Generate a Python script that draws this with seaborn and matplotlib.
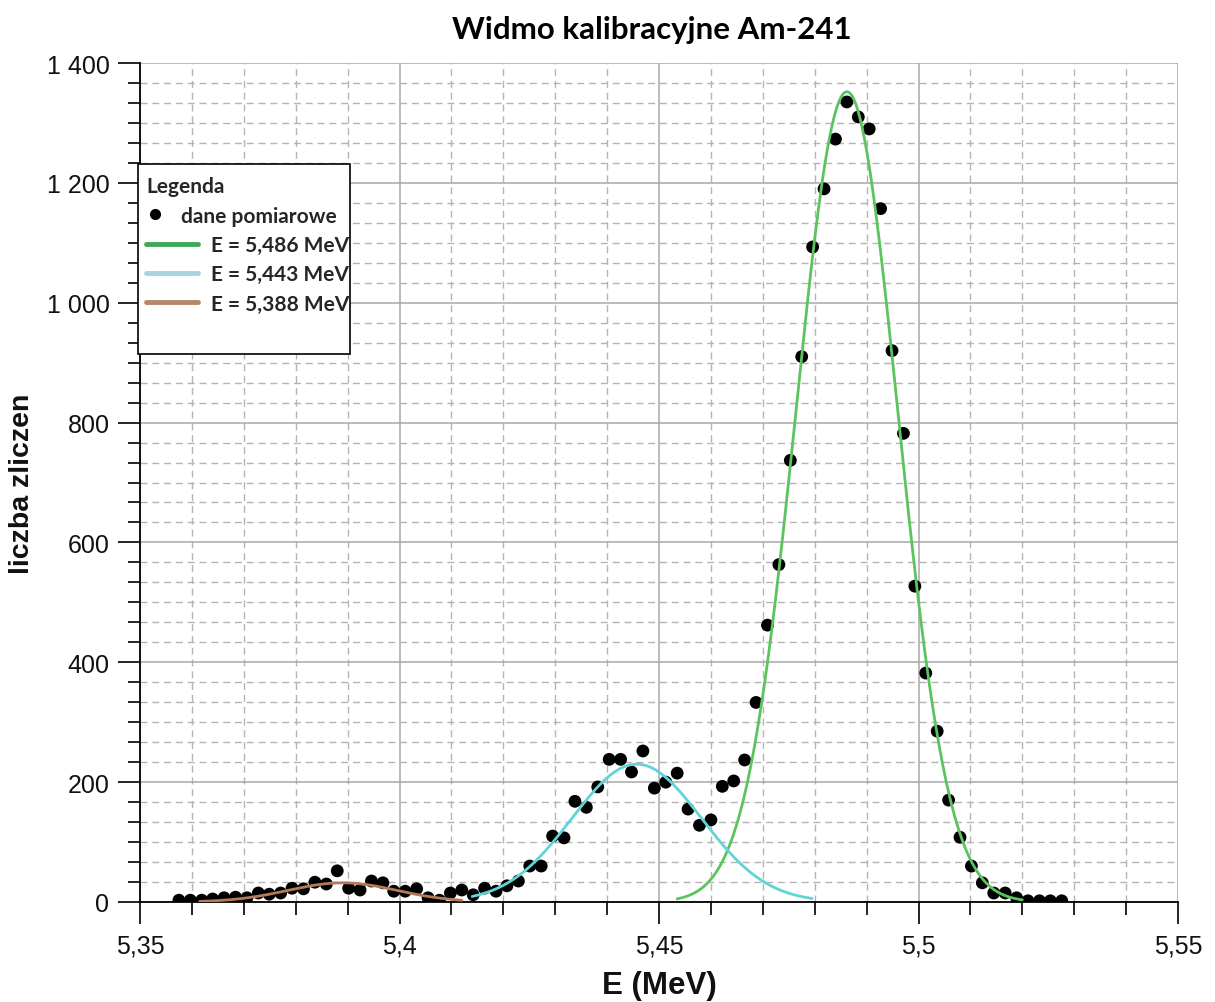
import numpy as np
import pandas as pd
import matplotlib
matplotlib.use("Agg")
import matplotlib.pyplot as plt
import matplotlib.transforms as mtransforms
from matplotlib.ticker import MultipleLocator, FuncFormatter, FixedLocator
from matplotlib.patches import Rectangle
from matplotlib.lines import Line2D
import seaborn as sns

# ---------------- data ----------------
energy = [5.3575, 5.3597, 5.3619, 5.3640, 5.3662, 5.3684, 5.3706, 5.3728, 5.3749, 5.3771,
          5.3793, 5.3815, 5.3837, 5.3859, 5.3880, 5.3902, 5.3924, 5.3946, 5.3968, 5.3989,
          5.4011, 5.4033, 5.4055, 5.4077, 5.4098, 5.4120, 5.4142, 5.4164, 5.4186, 5.4207,
          5.4229, 5.4251, 5.4273, 5.4295, 5.4317, 5.4338, 5.4360, 5.4382, 5.4404, 5.4426,
          5.4447, 5.4469, 5.4491, 5.4513, 5.4535, 5.4556, 5.4578, 5.4600, 5.4622, 5.4644,
          5.4665, 5.4687, 5.4709, 5.4731, 5.4753, 5.4775, 5.4796, 5.4818, 5.4840, 5.4862,
          5.4884, 5.4905, 5.4927, 5.4949, 5.4971, 5.4993, 5.5014, 5.5036, 5.5058, 5.5080,
          5.5102, 5.5123, 5.5145, 5.5167, 5.5189, 5.5211, 5.5233, 5.5254, 5.5276]
counts = [3, 3, 3, 5, 7, 8, 7, 15, 13, 15,
          23, 22, 33, 30, 52, 23, 20, 35, 32, 18,
          18, 22, 7, 3, 15, 20, 12, 23, 18, 27,
          35, 60, 60, 110, 107, 168, 158, 192, 238, 238,
          217, 252, 190, 200, 215, 155, 128, 137, 193, 202,
          237, 333, 462, 563, 737, 910, 1093, 1190, 1273, 1335,
          1310, 1290, 1157, 920, 782, 527, 382, 285, 170, 108,
          60, 32, 15, 15, 7, 2, 2, 2, 2]

# Gaussian fit parameters (amplitude, centre, sigma, drawn range)
fit_labels = ["E = 5,486 MeV", "E = 5,443 MeV", "E = 5,388 MeV"]
fit_amp = [1352, 230, 32]
fit_mu = [5.4862, 5.4457, 5.389]
fit_sigma = [0.0098, 0.0125, 0.0105]
fit_start = [5.4535, 5.414, 5.3615]
fit_end = [5.520, 5.4795, 5.412]
fit_colors = ["#5cc45e", "#62d3d8", "#b47a58"]
legend_colors = ["#3fa65a", "#a9d3de", "#b5866a"]

x_major = [5.35, 5.40, 5.45, 5.50, 5.55]
y_major = [0, 200, 400, 600, 800, 1000, 1200, 1400]

# ---------------- figure ----------------
sns.set_theme(style="white")
plt.rcParams['font.family'] = ['Liberation Sans', 'DejaVu Sans']

fig = plt.figure(figsize=(12.15, 10.03), dpi=100)
ax = fig.add_axes([140/1215, 1-903/1003, (1178-140)/1215, (903-64)/1003])

pts = pd.DataFrame({"E": energy, "n": counts})
sns.scatterplot(data=pts, x="E", y="n", ax=ax, color="black", s=85,
                edgecolor="none", zorder=4, legend=False)

for lab, A, mu, sg, a, b, c in zip(fit_labels, fit_amp, fit_mu, fit_sigma,
                                   fit_start, fit_end, fit_colors):
    xs = np.linspace(a, b, 300)
    curve = pd.DataFrame({"E": xs, "n": A*np.exp(-(xs-mu)**2/(2*sg**2))})
    sns.lineplot(data=curve, x="E", y="n", ax=ax, color=c, lw=2.0, zorder=5,
                 legend=False)

ax.set_xlim(5.35, 5.55)
ax.set_ylim(0, 1400)
ax.xaxis.set_major_locator(FixedLocator(x_major))
ax.xaxis.set_minor_locator(MultipleLocator(0.01))
ax.yaxis.set_major_locator(FixedLocator(y_major))
ax.yaxis.set_minor_locator(MultipleLocator(200/6))
ax.xaxis.set_major_formatter(FuncFormatter(
    lambda v, p: f"{v:.2f}".rstrip('0').replace('.', ',')))
ax.yaxis.set_major_formatter(FuncFormatter(
    lambda v, p: f"{int(round(v)):,}".replace(',', ' ')))

ax.grid(which="major", color="#a8a8a8", lw=1.1, ls="-")
ax.grid(which="minor", color="#b4b4b4", lw=1.0, ls=(0, (5, 3.5)))
ax.set_axisbelow(True)

# hide gridlines lying on the outer limits
for t in ax.xaxis.get_major_ticks():
    if abs(t.get_loc() - 5.55) < 1e-6:
        t.gridline.set_visible(False)
for t in ax.yaxis.get_major_ticks():
    if abs(t.get_loc() - 1400) < 1e-6:
        t.gridline.set_visible(False)

for s in ["top", "right"]:
    ax.spines[s].set_visible(False)
for s in ["left", "bottom"]:
    ax.spines[s].set_color("black")
    ax.spines[s].set_linewidth(1.3)

ax.tick_params(which="major", length=16, width=1.2, color="black",
               labelsize=18, labelcolor="#111111", pad=6,
               left=True, bottom=True)
ax.tick_params(which="minor", length=9, width=1.2, color="black",
               left=True, bottom=True)
ax.tick_params(axis="x", which="major", pad=7)

ax.set_xlabel("E (MeV)", fontsize=22.5, fontweight="bold", labelpad=9,
              color="#111111")
ax.set_ylabel("liczba zliczen", fontsize=20.5, fontweight="bold", labelpad=8,
              color="#111111")
fig.suptitle("Widmo kalibracyjne Am-241", fontsize=22.5, fontweight="bold",
             color="black", family=["Lato", "DejaVu Sans"],
             x=652/1215, y=1-30/1003, va="center")

# legend frame + legend
ax.add_patch(Rectangle((-0.002, (903-355)/839), (350-138)/1038, (355-165)/839,
                       transform=ax.transAxes, facecolor="white",
                       edgecolor="black", lw=1.2, zorder=6, clip_on=False))
handles = [Line2D([], [], ls="none", marker="o", color="black", markersize=7)]
handles += [Line2D([], [], color=c, lw=3.5) for c in legend_colors]
lfont = {"family": ["Lato", "DejaVu Sans"], "weight": "bold", "size": 15}
leg = ax.legend(handles, ["dane pomiarowe"] + fit_labels, title="Legenda",
                loc="upper left", bbox_to_anchor=(0.0, (903-171)/839),
                frameon=False, handlelength=2.5, handletextpad=0.6,
                labelspacing=0.45, borderaxespad=0.0, borderpad=0.3,
                prop=lfont)
leg.get_title().set_fontproperties(lfont)
leg._legend_box.align = "left"
leg.set_zorder(7)

# the data-point entry sits further left in the reference legend
dot = leg.legend_handles[0]
dot.set_xdata(np.asarray(dot.get_xdata(), dtype=float) - 12.5)
txt0 = leg.get_texts()[0]
txt0.set_transform(txt0.get_transform() +
                   mtransforms.ScaledTranslation(-30/100, 0, fig.dpi_scale_trans))

fig.savefig("out.png", dpi=100)
